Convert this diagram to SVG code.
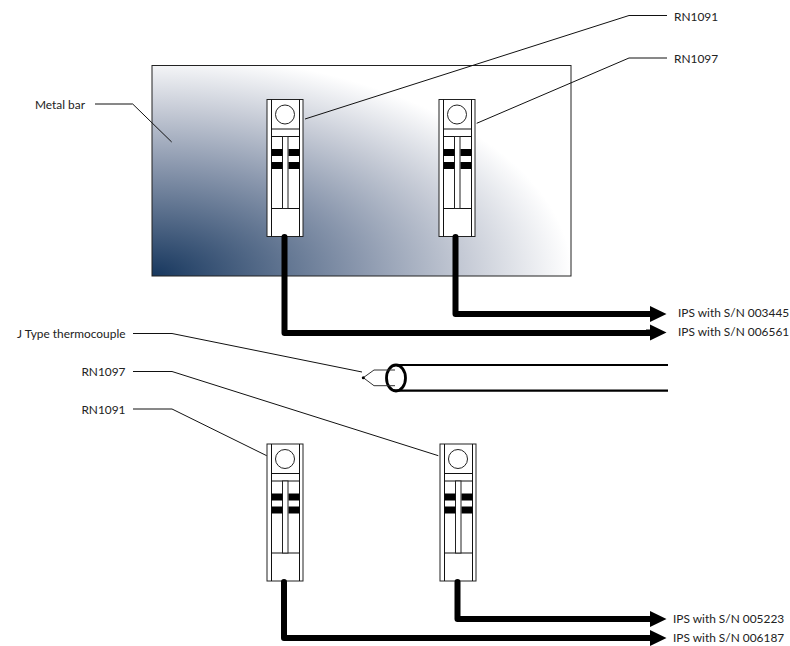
<svg xmlns="http://www.w3.org/2000/svg" width="790" height="646" viewBox="0 0 790 646">
<style>
text{font-family:"Lato","Open Sans","Liberation Sans",sans-serif;font-size:11.9px;fill:#222}
.l{fill:none;stroke:#111;stroke-width:1}
.s{fill:#fff;stroke:#222;stroke-width:1}
.c{fill:none;stroke:#000;stroke-width:6;stroke-linejoin:round;stroke-linecap:round}
.a{fill:#000}
</style>
<defs>
<radialGradient id="g" gradientUnits="userSpaceOnUse" cx="0" cy="0" r="1" gradientTransform="translate(152 276) scale(420 222)">
<stop offset="0" stop-color="#17375e"/>
<stop offset="0.5" stop-color="#8b98ae"/>
<stop offset="0.75" stop-color="#c6cbd6"/>
<stop offset="1" stop-color="#fff"/>
</radialGradient>
<g id="sensor">
<rect class="s" x="267" y="99.500" width="36" height="137"/>
<path class="l" d="M271.500 99.500V236.500M299.500 99.500V236.500M271.500 129H299.500M271.500 136.500H299.500M271.500 208.500H299.500"/>
<circle class="s" cx="285" cy="114.500" r="9.500"/>
<rect class="s" x="282.500" y="136.500" width="5.500" height="72"/>
<path d="M271.500 149h11v7h-11zM271.500 162h11v7h-11zM288.500 149h11v7h-11zM288.500 162h11v7h-11z"/>
</g>
<path id="ah" class="a" d="M0 0l-16.500 -8v5h-4v6h4v5z"/>
</defs>
<g id="metal-bar"><rect x="152" y="65.500" width="419" height="210.500" fill="url(#g)" stroke="#222" stroke-width="1"/></g>
<g id="sensor-top-1"><use href="#sensor"/></g>
<g id="sensor-top-2"><use href="#sensor" x="172"/></g>
<g id="sensor-bottom-1"><use href="#sensor" y="344.500"/></g>
<g id="sensor-bottom-2"><use href="#sensor" x="173" y="344.500"/></g>
<g id="thermocouple">
<path d="M393 365H668M393 390.700H668" fill="none" stroke="#000" stroke-width="2.200"/>
<ellipse cx="396" cy="378" rx="9.500" ry="13" fill="none" stroke="#000" stroke-width="2.800"/>
<path d="M363.300 377.700L374 370H395M363.300 377.700L374 385.700H395" fill="none" stroke="#333" stroke-width="1"/>
<circle cx="363.300" cy="377.700" r="1.500"/>
</g>
<g id="connectors">
<path class="c" d="M284.500 237V333H655"/>
<path class="c" d="M455.500 237V314H655"/>
<path class="c" d="M284 582V638H655"/>
<path class="c" d="M457.500 582V619H655"/>
<use href="#ah" x="666.500" y="314"/>
<use href="#ah" x="666.500" y="332.500"/>
<use href="#ah" x="666.500" y="619"/>
<use href="#ah" x="666.500" y="638"/>
<path class="l" d="M305 119L629 15.500H667"/>
<path class="l" d="M476.700 123.300L629 58H667"/>
<path class="l" d="M171.700 142L132.700 104H95"/>
<path class="l" d="M362 372L172 333.500H133"/>
<path class="l" d="M438.300 455.700L172 371.500H133"/>
<path class="l" d="M266.700 455.700L172 409H133"/>
</g>
<g id="labels">
<text x="674" y="20.500">RN1091</text>
<text x="674" y="62.500">RN1097</text>
<text x="35" y="108.500">Metal bar</text>
<text x="678" y="317">IPS with S/N 003445</text>
<text x="678" y="336">IPS with S/N 006561</text>
<text x="125.500" y="337.500" text-anchor="end">J Type thermocouple</text>
<text x="125.500" y="376" text-anchor="end">RN1097</text>
<text x="125.500" y="413.500" text-anchor="end">RN1091</text>
<text x="673" y="623">IPS with S/N 005223</text>
<text x="673" y="642">IPS with S/N 006187</text>
</g>
</svg>
